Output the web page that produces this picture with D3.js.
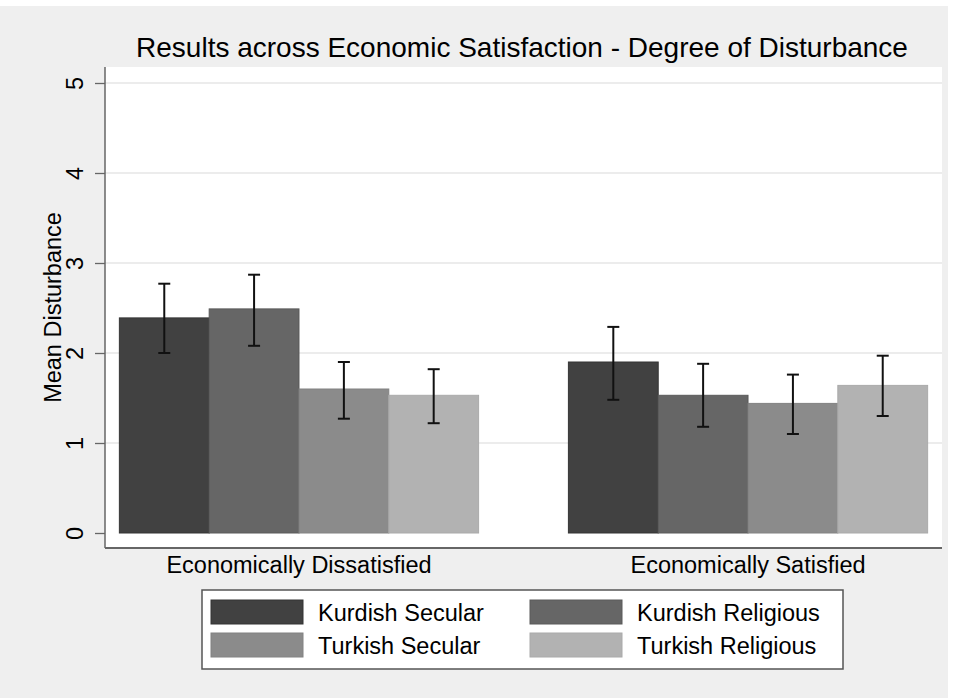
<!DOCTYPE html>
<html>
<head>
<meta charset="utf-8">
<script src="https://cdn.jsdelivr.net/npm/d3@7"></script>
<style>
  body { margin: 0; background: #fff; }
  text { font-family: "Liberation Sans", Arial, Helvetica, sans-serif; fill: #000; }
</style>
</head>
<body>
<div id="Chart"></div>
<script>
// data
var groups = ["Economically Dissatisfied", "Economically Satisfied"];
var series = ["Kurdish Secular", "Kurdish Religious", "Turkish Secular", "Turkish Religious"];
var meanDissatisfied = [2.39, 2.49, 1.60, 1.53];
var meanSatisfied = [1.90, 1.53, 1.44, 1.64];
var lowDissatisfied = [2.00, 2.08, 1.27, 1.22];
var lowSatisfied = [1.48, 1.18, 1.10, 1.30];
var highDissatisfied = [2.77, 2.87, 1.90, 1.82];
var highSatisfied = [2.29, 1.88, 1.76, 1.97];
var yTicks = [0, 1, 2, 3, 4, 5];

var colors = ["#414141", "#666666", "#8b8b8b", "#b2b2b2"];
var strokes = ["#353535", "#5a5a5a", "#828282", "#aaaaaa"];

var rows = [];
groups.forEach(function(g, gi){
    var m = gi == 0 ? meanDissatisfied : meanSatisfied;
    var lo = gi == 0 ? lowDissatisfied : lowSatisfied;
    var hi = gi == 0 ? highDissatisfied : highSatisfied;
    series.forEach(function(s, si){
        rows.push({group: g, key: s, mean: m[si], low: lo[si], high: hi[si]});
    });
});

var width = 954, height = 698;
var plot = {left: 105, right: 942, top: 67, bottom: 548};
var labelSize = "23.5px";

var svg = d3.select("#Chart")
            .append("svg")
            .attr("class", "chart")
            .attr("width", width)
            .attr("height", height);

// outer background
svg.append("rect")
   .attr("x", 0).attr("y", 6)
   .attr("width", 948).attr("height", height - 6)
   .attr("fill", "#efefef");

// plot region
svg.append("rect")
   .attr("x", plot.left).attr("y", plot.top)
   .attr("width", plot.right - plot.left)
   .attr("height", plot.bottom - plot.top)
   .attr("fill", "#fff");

var y = d3.scaleLinear().domain([0, 5]).range([533, 83]);
var x0 = d3.scaleBand().domain(groups).range([plot.left, plot.right])
           .paddingInner(0.2).paddingOuter(0.032);
var x1 = d3.scaleBand().domain(series).range([0, x0.bandwidth()]);
var color = d3.scaleOrdinal().domain(series).range(colors);
var edge = d3.scaleOrdinal().domain(series).range(strokes);

// grid lines
svg.append("g").selectAll("line")
   .data(yTicks.filter(d => d > 0))
   .enter().append("line")
   .attr("x1", plot.left).attr("x2", plot.right)
   .attr("y1", d => y(d)).attr("y2", d => y(d))
   .attr("stroke", "#e6e6e6")
   .attr("stroke-width", 1.5);

// y axis
var yaxis = svg.append("g")
   .attr("transform", "translate(" + plot.left + ",0)")
   .call(d3.axisLeft(y).tickValues(yTicks).tickSize(10).tickPadding(0).tickFormat(d3.format("d")));
yaxis.select(".domain").remove();
yaxis.selectAll(".tick line").attr("stroke", "#666").attr("stroke-width", 1.3);
yaxis.selectAll(".tick text")
     .attr("x", 0).attr("dy", null)
     .attr("transform", "translate(-30,0) rotate(-90)")
     .attr("text-anchor", "middle")
     .attr("dominant-baseline", "central")
     .attr("fill", "#000")
     .style("font-family", "'Liberation Sans', Arial, sans-serif")
     .style("font-size", labelSize);
svg.append("line")
   .attr("x1", plot.left).attr("x2", plot.left)
   .attr("y1", plot.top).attr("y2", plot.bottom)
   .attr("stroke", "#666").attr("stroke-width", 1.5);

// x axis
svg.append("line")
   .attr("x1", plot.left).attr("x2", plot.right)
   .attr("y1", plot.bottom).attr("y2", plot.bottom)
   .attr("stroke", "#666").attr("stroke-width", 2);
svg.append("g").selectAll("text")
   .data(groups)
   .enter().append("text")
   .attr("x", d => x0(d) + x0.bandwidth() / 2)
   .attr("y", 573)
   .attr("text-anchor", "middle")
   .style("font-size", labelSize)
   .text(d => d);

// bars
var bars = svg.append("g");
bars.selectAll("rect")
    .data(rows)
    .enter().append("rect")
    .attr("x", d => x0(d.group) + x1(d.key))
    .attr("y", d => y(d.mean))
    .attr("width", x1.bandwidth())
    .attr("height", d => y(0) - y(d.mean))
    .attr("fill", d => color(d.key))
    .attr("stroke", d => edge(d.key))
    .attr("stroke-width", 1);

// error bars
var cap = 6;
var err = svg.append("g").attr("stroke", "#111").attr("stroke-width", 2);
rows.forEach(function(d){
    var cx = x0(d.group) + x1(d.key) + x1.bandwidth() / 2;
    err.append("line").attr("x1", cx).attr("x2", cx).attr("y1", y(d.low)).attr("y2", y(d.high));
    err.append("line").attr("x1", cx - cap).attr("x2", cx + cap).attr("y1", y(d.low)).attr("y2", y(d.low));
    err.append("line").attr("x1", cx - cap).attr("x2", cx + cap).attr("y1", y(d.high)).attr("y2", y(d.high));
});

// title
svg.append("text")
   .attr("x", 522).attr("y", 57)
   .attr("text-anchor", "middle")
   .style("font-size", "28px")
   .text("Results across Economic Satisfaction - Degree of Disturbance");

// y title
svg.append("text")
   .attr("transform", "translate(53," + ((plot.top + plot.bottom) / 2) + ") rotate(-90)")
   .attr("text-anchor", "middle")
   .attr("dominant-baseline", "central")
   .style("font-size", labelSize)
   .text("Mean Disturbance");

// legend
var lg = svg.append("g");
lg.append("rect")
  .attr("x", 202).attr("y", 590)
  .attr("width", 641).attr("height", 79)
  .attr("fill", "#fff")
  .attr("stroke", "#555").attr("stroke-width", 1.5);
var legX = [211, 530], legY = [600, 633];
lg.selectAll("rect.legend")
  .data(series)
  .enter().append("rect")
  .attr("class", "legend")
  .attr("x", (d, i) => legX[i % 2])
  .attr("y", (d, i) => legY[Math.floor(i / 2)])
  .attr("width", 92).attr("height", 24)
  .attr("fill", d => color(d))
  .attr("stroke", d => edge(d));
lg.selectAll("text.legend_label")
  .data(series)
  .enter().append("text")
  .attr("class", "legend_label")
  .attr("x", (d, i) => legX[i % 2] + 107)
  .attr("y", (d, i) => legY[Math.floor(i / 2)] + 21)
  .style("font-size", labelSize)
  .text(d => d);
</script>
</body>
</html>
